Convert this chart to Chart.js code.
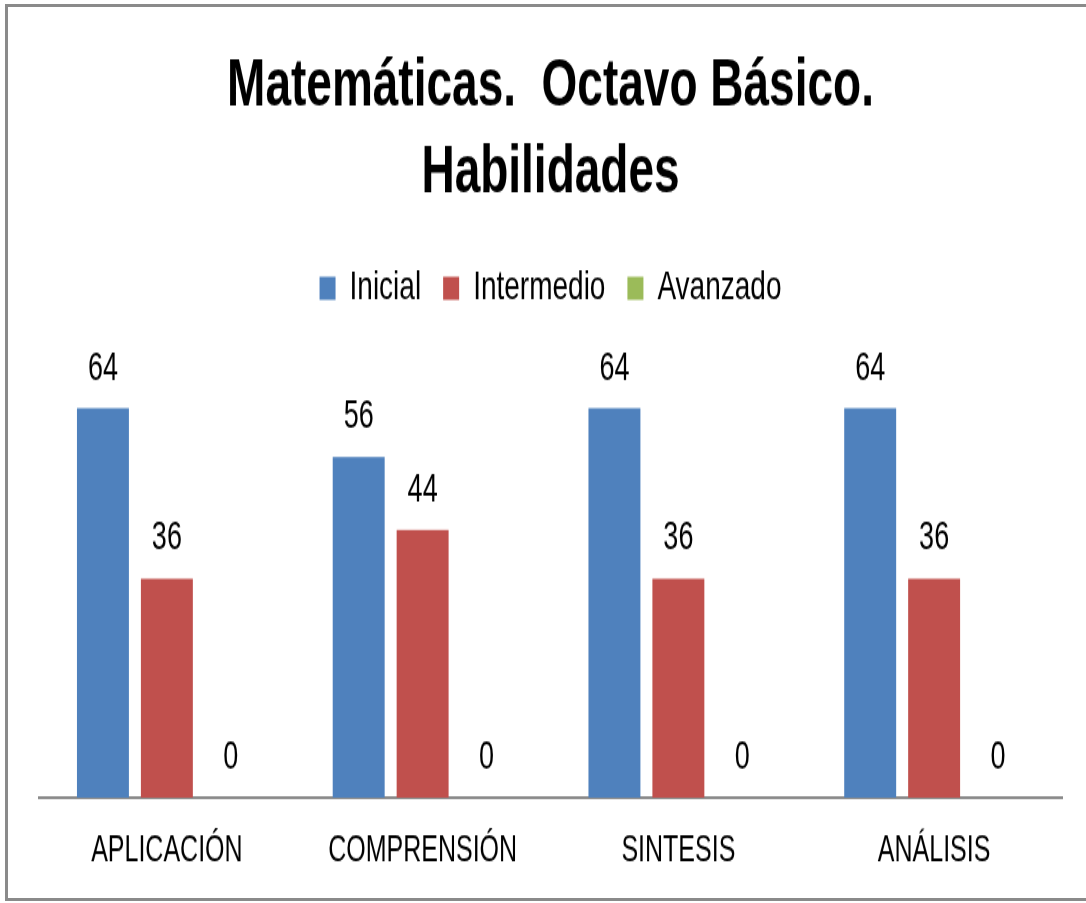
<!DOCTYPE html>
<html>
<head>
<meta charset="utf-8">
<title>Matemáticas. Octavo Básico. Habilidades</title>
<script src="https://cdn.jsdelivr.net/npm/chart.js@4"></script>
<style>
  body { margin: 0; background: #fff; overflow: hidden; }
  /* el grafico se estira en vertical, como el original */
  #lienzo { position: absolute; left: 0; top: 0; transform: scaleY(1.445); transform-origin: 0 0; }
  #marco { position: absolute; left: 5px; top: 4px; width: 1200px; height: 897px; box-sizing: border-box;
           border: 3px solid #8a8a8a; border-right: none; pointer-events: none; }
</style>
</head>
<body>
<div id="lienzo"><canvas id="grafico" width="1086" height="627"></canvas></div>
<div id="marco"></div>
<script>
const categorias = ['APLICACIÓN', 'COMPRENSIÓN', 'SINTESIS', 'ANÁLISIS'];
const inicial = [64, 56, 64, 64];
const intermedio = [36, 44, 36, 36];
const avanzado = [0, 0, 0, 0];

const fuente = "'Liberation Sans', Arial, sans-serif";

// escribe el valor encima de cada barra
const etiquetas = {
  id: 'etiquetas',
  afterDatasetsDraw(chart) {
    const ctx = chart.ctx;
    ctx.save();
    ctx.font = '27px ' + fuente;
    ctx.fillStyle = '#000';
    ctx.textAlign = 'center';
    ctx.textBaseline = 'alphabetic';
    chart.data.datasets.forEach(function (ds, i) {
      chart.getDatasetMeta(i).data.forEach(function (barra, j) {
        ctx.fillText(ds.data[j], barra.x, barra.y - 20);
      });
    });
    ctx.restore();
  }
};

let dados = {
  labels: categorias,
  datasets: [
    { label: 'Inicial', data: inicial, backgroundColor: '#4F81BD' },
    { label: 'Intermedio', data: intermedio, backgroundColor: '#C0504D' },
    { label: 'Avanzado', data: avanzado, backgroundColor: '#9BBB59' }
  ]
};

var grafico = new Chart(document.getElementById('grafico'), {
  type: 'bar',
  data: dados,
  plugins: [etiquetas],
  options: {
    responsive: false,
    animation: false,
    categoryPercentage: 0.75,
    barPercentage: 0.8125,
    layout: { padding: { left: 39, right: 24, top: 0, bottom: 0 } },
    plugins: {
      tooltip: { enabled: false },
      title: {
        display: true,
        text: ['Matemáticas.  Octavo Básico.', 'Habilidades'],
        color: '#000',
        font: { family: fuente, size: 46, weight: 'bold', lineHeight: 1.294 },
        padding: { top: 31, bottom: 13.5 }
      },
      legend: {
        position: 'top',
        labels: {
          color: '#000',
          font: { family: fuente, size: 28 },
          boxWidth: 16,
          boxHeight: 16,
          padding: 22
        }
      }
    },
    scales: {
      x: {
        grid: { display: false, drawTicks: false },
        border: { display: true, color: '#8a8a8a', width: 2 },
        ticks: { color: '#000', font: { family: fuente, size: 25, lineHeight: 1 }, padding: 25 }
      },
      y: {
        display: false,
        min: 0,
        max: 78
      }
    }
  }
});
</script>
</body>
</html>
